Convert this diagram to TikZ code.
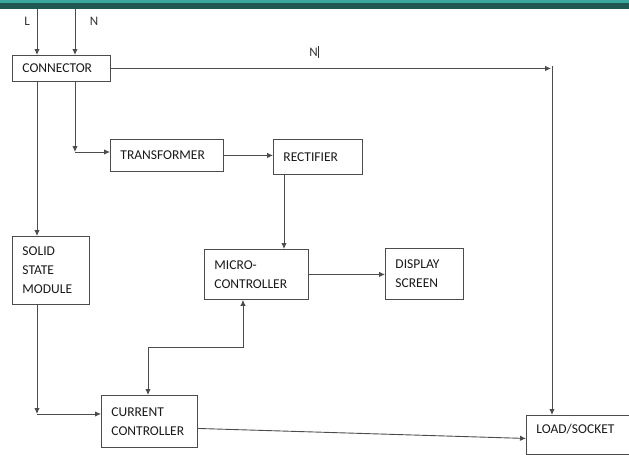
\documentclass[tikz,border=0pt]{standalone}
\usepackage{fontspec}
\setmainfont{Carlito}
\usepackage{tikz}
\usetikzlibrary{arrows.meta}

\definecolor{bandlight}{HTML}{3AA8A0}
\definecolor{banddark}{HTML}{1F5752}

\tikzset{
  block/.style={draw=black!70, line width=0.9pt, anchor=north west, align=left,
    inner xsep=10pt, inner ysep=0pt, text=black!90,
    font=\fontsize{13.5}{19}\selectfont},
  wire/.style={draw=black!70, line width=0.9pt},
  tip/.style={-{Latex[length=6pt,width=5.5pt]}},
  lbl/.style={text=black!80, font=\fontsize{13}{15}\selectfont, inner sep=0pt}
}

\begin{document}
\begin{tikzpicture}[x=1pt,y=-1pt]

\useasboundingbox (0,0) rectangle (629,455);
\clip (0,0) rectangle (629,455);

% top band
\fill [bandlight] (0,0) rectangle (629,2.5);
\fill [banddark] (0,2.5) rectangle (629,9);

% blocks
\node [block, text width=78pt, minimum height=26pt]  (conn)  at (12,55)  {CONNECTOR};
\node [block, text width=93pt, minimum height=32pt]  (trans) at (110,139) {TRANSFORMER};
\node [block, text width=69pt, minimum height=35pt]  (rect)  at (273,139) {RECTIFIER};
\node [block, text width=57pt, minimum height=68pt]  (ssm)   at (12,236) {SOLID\\STATE\\MODULE};
\node [block, text width=84pt, minimum height=50pt]  (mc)    at (204,249) {MICRO-\\CONTROLLER};
\node [block, text width=58pt, minimum height=51pt]  (disp)  at (385,248) {DISPLAY\\SCREEN};
\node [block, text width=76pt, minimum height=52pt]  (cc)    at (101,395) {CURRENT\\CONTROLLER};
\node [block, text width=100pt, minimum height=39pt, text depth=12pt] (load) at (526,415) {LOAD/SOCKET};

% labels
\node [lbl] (lL) at (27,21) {L};
\node [lbl] (lN) at (94,21) {N};
\node [lbl] (lN2) at (314,52) {N\rule[-2pt]{0.8pt}{12pt}};

% corner points
\coordinate (Ltop) at (37,9);
\coordinate (Ntop) at (75,9);
\coordinate (cA) at (551,67);
\coordinate (cB) at (75,152);
\coordinate (cC) at (37,414);
\coordinate (cD) at (243,347);
\coordinate (cE) at (148,347);

% supply
\draw [wire, tip] (Ltop) -- (Ltop |- conn.north);
\draw [wire, tip] (Ntop) -- (Ntop |- conn.north);

% connector to load
\draw [wire, tip] (conn.east) -- (conn.east -| cA);
\draw [wire, tip] (552,66) -- (552,0 |- load.north);

% live path
\draw [wire, tip] (Ltop |- conn.south) -- (Ltop |- ssm.north);
\draw [wire, tip] (Ltop |- ssm.south) -- (cC);
\draw [wire, tip] (cC) -- (cC -| cc.west);

% neutral path
\draw [wire, tip] (Ntop |- conn.south) -- (cB);
\draw [wire, tip] (cB) -- (cB -| trans.west);
\draw [wire, tip] (trans.east) -- (trans.east -| rect.west);
\draw [wire, tip] (rect.south -| 284,0) -- (284,0 |- mc.north);
\draw [wire, tip] (mc.east) -- (mc.east -| disp.west);

% controller link
\draw [wire, {Latex[length=6pt,width=5.5pt]}-{Latex[length=6pt,width=5.5pt]}]
  (cD |- mc.south) -- (cD) -- (cE) -- (cE |- cc.north);

% output
\draw [wire, tip] ([yshift=-7pt]cc.east) -- ([yshift=-3.5pt]load.west);

\end{tikzpicture}
\end{document}
